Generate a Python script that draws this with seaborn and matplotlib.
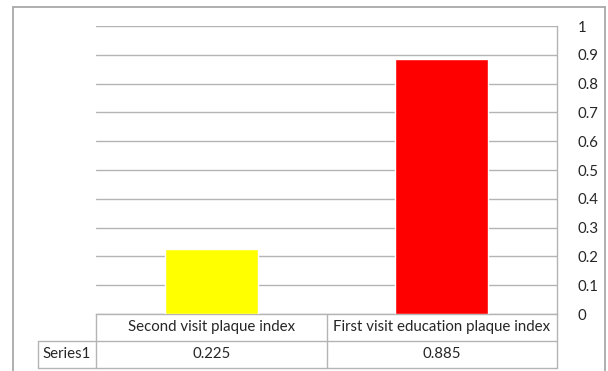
import matplotlib
matplotlib.use("Agg")
import matplotlib.pyplot as plt
from matplotlib.lines import Line2D
import seaborn as sns
import pandas as pd

categories = ["Second visit plaque index", "First visit education plaque index"]
values = [0.225, 0.885]
bar_colors = ["#FFFF00", "#FF0000"]
series_name = "Series1"
y_ticks = [0, 0.1, 0.2, 0.3, 0.4, 0.5, 0.6, 0.7, 0.8, 0.9, 1]
y_tick_labels = ["0", "0.1", "0.2", "0.3", "0.4", "0.5", "0.6", "0.7", "0.8", "0.9", "1"]

sns.set_style("white")
plt.rcParams["font.family"] = ["Lato", "DejaVu Sans"]

W, H = 608, 371
fig = plt.figure(figsize=(W / 100, H / 100), dpi=100)
fig.patch.set_facecolor("white")

line_c = "#b4b4b4"
text_c = "#262626"
fs = 10.8

# plot area in pixel units
px_l, px_r, px_t, px_b = 96, 557, 26, 314
ax = fig.add_axes([px_l / W, 1 - px_b / H, (px_r - px_l) / W, (px_b - px_t) / H])

df = pd.DataFrame({"category": categories, "value": values})
sns.barplot(data=df, x="category", y="value", hue="category", palette=bar_colors,
            width=0.405, legend=False, ax=ax, saturation=1, zorder=3)

ax.set_ylim(0, 1)
ax.set_xlim(-0.5, len(categories) - 0.5)
ax.set_yticks(y_ticks)
ax.set_yticklabels(y_tick_labels)
ax.yaxis.tick_right()
ax.tick_params(axis="y", length=0, pad=15, labelsize=fs, labelcolor=text_c)
for lab in ax.get_yticklabels():
    lab.set_horizontalalignment("left")
ax.set_xticks([])
ax.set_xlabel("")
ax.set_ylabel("")
ax.grid(axis="y", color=line_c, linewidth=1, zorder=0)
ax.set_axisbelow(True)
for side in ["top", "left"]:
    ax.spines[side].set_visible(False)
ax.spines["right"].set_color(line_c)
ax.spines["bottom"].set_color(line_c)
ax.spines["right"].set_linewidth(1)
ax.spines["bottom"].set_linewidth(1)

# overlay in pixel coordinates for the frame and data table
ov = fig.add_axes([0, 0, 1, 1], facecolor="none")
ov.set_xlim(0, W)
ov.set_ylim(H, 0)
ov.axis("off")

def seg(x0, y0, x1, y1, c=line_c, lw=1):
    ov.add_line(Line2D([x0, x1], [y0, y1], color=c, linewidth=lw))

# chart frame
frame_c = "#a9a9a9"
seg(13, 7, 605, 7, frame_c, 1.3)
seg(13, 7, 13, 371, frame_c, 1.3)
seg(605, 7, 605, 371, frame_c, 1.3)

# data table grid
row1_t, row1_b, row2_b = 314, 341, 368
col_x = [px_l, (px_l + px_r) / 2, px_r]
hdr_l = 38
seg(hdr_l, row1_b, px_r, row1_b)
seg(hdr_l, row2_b, px_r, row2_b)
seg(hdr_l, row1_b, hdr_l, row2_b)
for x in col_x:
    seg(x, row1_t, x, row2_b)

for i, (cat, val) in enumerate(zip(categories, values)):
    cx = (col_x[i] + col_x[i + 1]) / 2
    ov.text(cx, (row1_t + row1_b) / 2, cat, ha="center", va="center",
            fontsize=fs, color=text_c)
    ov.text(cx, (row1_b + row2_b) / 2, f"{val:g}", ha="center", va="center",
            fontsize=fs, color=text_c)
ov.text((hdr_l + px_l) / 2, (row1_b + row2_b) / 2, series_name, ha="center",
        va="center", fontsize=fs, color=text_c)

fig.savefig("out.png", dpi=100, facecolor="white")
